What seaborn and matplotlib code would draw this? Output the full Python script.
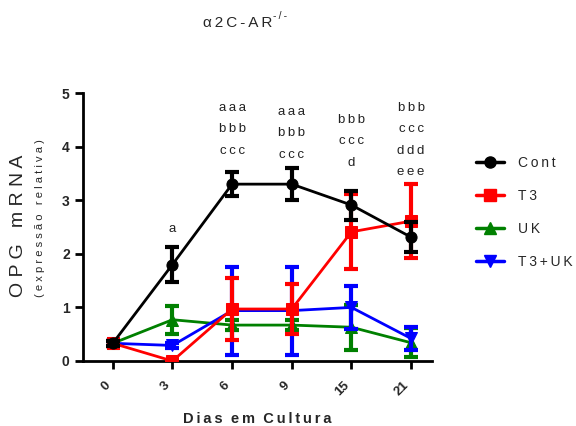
import matplotlib
matplotlib.use("Agg")
import matplotlib.pyplot as plt
import seaborn as sns
import pandas as pd
import numpy as np
from matplotlib.lines import Line2D

days = ["0", "3", "6", "9", "15", "21"]
groups = ["Cont", "T3", "UK", "T3+UK"]
cont_mean = [0.33, 1.80, 3.30, 3.30, 2.91, 2.31]
cont_err = [0.05, 0.33, 0.22, 0.30, 0.27, 0.28]
t3_mean = [0.33, 0.00, 0.97, 0.97, 2.41, 2.61]
t3_err = [0.05, 0.00, 0.57, 0.47, 0.70, 0.69]
uk_mean = [0.33, 0.77, 0.67, 0.67, 0.63, 0.34]
uk_err = [0.05, 0.26, 0.10, 0.10, 0.42, 0.27]
t3uk_mean = [0.33, 0.29, 0.94, 0.94, 1.00, 0.42]
t3uk_err = [0.05, 0.05, 0.82, 0.82, 0.40, 0.22]
annotations = {1: ["a"], 2: ["aaa", "bbb", "ccc"], 3: ["aaa", "bbb", "ccc"],
               4: ["bbb", "ccc", "d"], 5: ["bbb", "ccc", "ddd", "eee"]}
annot_base = {1: 2.46, 2: 4.72, 3: 4.65, 4: 4.50, 5: 4.72}

colors = {"Cont": "#000000", "T3": "#ff0000", "UK": "#008000", "T3+UK": "#0000ff"}
markers = {"Cont": "o", "T3": "s", "UK": "^", "T3+UK": "v"}
means = {"Cont": cont_mean, "T3": t3_mean, "UK": uk_mean, "T3+UK": t3uk_mean}
errs = {"Cont": cont_err, "T3": t3_err, "UK": uk_err, "T3+UK": t3uk_err}

rows = []
for g in groups:
    for i, d in enumerate(days):
        rows.append({"pos": i, "day": d, "group": g, "value": means[g][i], "err": errs[g][i]})
df = pd.DataFrame(rows)

sns.set_theme(style="ticks")
plt.rcParams["font.family"] = ["Liberation Sans", "DejaVu Sans"]

fig = plt.figure(figsize=(5.76, 4.26), dpi=100)
ax = fig.add_axes([0.144, 0.1526, 0.606, 0.629])

draw_order = ["UK", "T3+UK", "T3", "Cont"]
for z, g in enumerate(draw_order):
    sub = df[df.group == g]
    ax.errorbar(sub["pos"], sub["value"], yerr=sub["err"], fmt="none",
                ecolor=colors[g], elinewidth=3, capsize=5, capthick=3, zorder=2 + z)
    sns.lineplot(data=sub, x="pos", y="value", color=colors[g], marker=markers[g],
                 markersize=8, markeredgecolor=colors[g], linewidth=2, ax=ax,
                 zorder=3 + z, legend=False, errorbar=None)

for i, lines in annotations.items():
    for k, txt in enumerate(lines):
        y = annot_base[i] - k * 0.4
        ax.text(i, y, "\u2009".join(txt), ha="center", va="center", fontsize=9.5,
                color="#222222", clip_on=False)

ax.set_xlim(-0.5, 5.35)
ax.set_ylim(0, 5)
ax.set_xticks(range(len(days)))
ax.set_xticklabels(days, rotation=45, ha="right", fontweight="bold", fontsize=9.5)
ax.set_yticks([0, 1, 2, 3, 4, 5])
ax.set_yticklabels(["0", "1", "2", "3", "4", "5"], fontweight="bold", fontsize=10)
ax.tick_params(axis="both", width=2, length=6, color="black")
ax.tick_params(axis="x", pad=7)
for s in ["left", "bottom"]:
    ax.spines[s].set_linewidth(2)
    ax.spines[s].set_color("black")
sns.despine(ax=ax)
ax.set_xlabel("D\u2009i\u2009a\u2009s  e\u2009m  C\u2009u\u2009l\u2009t\u2009u\u2009r\u2009a",
              fontweight="bold", fontsize=10.5, labelpad=10)
ax.set_ylabel("")

fig.text(0.032, 0.47, "O P G   m R N A", rotation=90, ha="center", va="center", fontsize=14)
fig.text(0.07, 0.487, "( e x p r e s s ã o   r e l a t i v a )", rotation=90,
         ha="center", va="center", fontsize=8)
fig.text(0.352, 0.945, "α\u20092\u2009C\u2009-\u2009A\u2009R", ha="left", va="center", fontsize=11)
fig.text(0.474, 0.963, "-\u2009/\u2009-", ha="left", va="center", fontsize=7.5)

handles = [Line2D([0], [0], color=colors[g], marker=markers[g], markersize=8, linewidth=2.5)
           for g in groups]
labels = ["C\u2009o\u2009n\u2009t", "T\u20093", "U\u2009K", "T\u20093\u2009+\u2009U\u2009K"]
fig.legend(handles, labels, loc="upper left", bbox_to_anchor=(0.817, 0.648), frameon=False,
           fontsize=10, labelspacing=1.38, handlelength=2.0, handletextpad=1.0, borderaxespad=0)

fig.savefig("out.png", dpi=100)
